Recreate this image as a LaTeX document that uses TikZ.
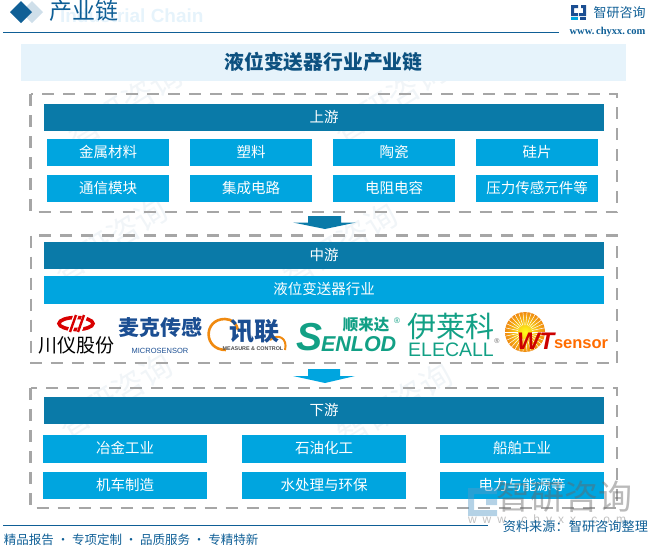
\documentclass[tikz,border=0pt]{standalone}
\usepackage{fontspec}
\setmainfont{Noto Sans CJK SC}
\newfontfamily\latinsans{Liberation Sans}
\newfontfamily\serifl{Liberation Serif}
\definecolor{deepbar}{HTML}{0A7AA8}
\definecolor{lightbar}{HTML}{00A5DF}
\definecolor{navy}{HTML}{0F5F96}
\definecolor{titleband}{HTML}{E6F3FB}
\definecolor{dashgray}{HTML}{A6A6A6}
\definecolor{wmark}{HTML}{F1F5F8}
\definecolor{logogreen}{HTML}{12A085}
\definecolor{micblue}{HTML}{1B4E92}
\definecolor{sunor}{HTML}{F08A10}
\tikzset{
  deepbox/.style={fill=deepbar,text=white,inner sep=0pt,font=\fontsize{14.5}{14.5}\selectfont,text height=11.5pt,text depth=2pt,minimum height=27pt,minimum width=560pt},
  lightbox/.style={fill=lightbar,text=white,inner sep=0pt,font=\fontsize{14.5}{14.5}\selectfont,text height=11.5pt,text depth=2pt,minimum height=27.5pt},
  upbox/.style={lightbox,minimum width=122pt},
  lowbox/.style={lightbox,minimum width=164.5pt},
  dashbox/.style={draw=dashgray,line width=2.4pt,dash pattern=on 12pt off 9pt},
  wm/.style={text=wmark,rotate=32,font=\fontsize{32}{32}\selectfont,inner sep=0pt},
  plain/.style={inner sep=0pt,outer sep=0pt},
}
\begin{document}
\begin{tikzpicture}[x=1pt,y=-1pt]
\useasboundingbox (0,0) rectangle (649,547);
% background watermarks
\node[wm] (w1) at (125,105) {智研咨询};
\node[wm] (w2) at (390,100) {智研咨询};
\node[wm] (w3) at (110,240) {智研咨询};
\node[wm] (w4) at (340,245) {智研咨询};
\node[wm] (w6) at (115,395) {智研咨询};
\node[wm] (w7) at (395,405) {智研咨询};
% header
\node[plain,text=titleband,font=\latinsans\bfseries\fontsize{19}{19}\selectfont,anchor=west] (subt) at (60,16) {Industrial Chain};
\fill[navy!20] (32,1) -- (43,12) -- (32,23) -- (21,12) -- cycle;
\fill[navy] (21,1) -- (32,12) -- (21,23) -- (10,12) -- cycle;
\node[plain,text=navy,font=\fontsize{23}{23}\selectfont,anchor=west] (head) at (49,11) {产业链};
\draw[navy,line width=1pt] (3,32.5) -- (559,32.5);
\fill[micblue] (571,5) rectangle (578,8) (571,5) rectangle (574,16) (571,13) rectangle (578,16) (581,5) rectangle (586,8) (583,5) rectangle (586,13) (579,13) rectangle (586,16);
\fill[lightbar] (571,17) rectangle (578,20);
\fill[micblue] (580,17) rectangle (586,20);
\node[plain,text=navy,font=\fontsize{13}{13}\selectfont] (brand) at (619.5,12.5) {智研咨询};
\node[plain,text=navy,font=\serifl\bfseries\fontsize{10.5}{10.5}\selectfont] (url) at (607.5,32) {www.\,chyxx.\,com};
% title band
\node[plain,fill=titleband,minimum width=605pt,minimum height=37pt,text=navy!85!black,font=\bfseries\fontsize{19.8}{19.8}\selectfont] (title) at (323.5,62) {液位变送器行业产业链};
% dashed frames
\draw[dashbox] (30.5,94) rectangle (617,212);
\draw[dashbox] (31,235.5) rectangle (617,363);
\draw[dashbox] (30.5,388) rectangle (617,508);
% upstream
\node[deepbox] (up) at (324,117.5) {上游};
\node[upbox] (u1) at (108,152.5) {金属材料};
\node[upbox] (u2) at (251,152.5) {塑料};
\node[upbox] (u3) at (394,152.5) {陶瓷};
\node[upbox] (u4) at (537,152.5) {硅片};
\node[upbox] (u5) at (108,188.5) {通信模块};
\node[upbox] (u6) at (251,188.5) {集成电路};
\node[upbox] (u7) at (394,188.5) {电阻电容};
\node[upbox] (u8) at (537,188.5) {压力传感元件等};
% arrow 1
\fill[deepbar] (308,216) -- (341,216) -- (341,222.5) -- (356,222.5) -- (325,229) -- (293,222.5) -- (308,222.5) -- cycle;
% midstream
\node[deepbox] (mid) at (324,255.5) {中游};
\node[lightbox,minimum width=560pt,minimum height=28pt] (mid2) at (324,290) {液位变送器行业};
% logo chuanyi
\draw[red!85!black,line width=3.6pt] (76,323.5) ellipse (17 and 6);
\draw[white,line width=5pt] (70,332) -- (76,315) (79,332) -- (85,315);
\draw[red!85!black,line width=2.4pt] (70,332) -- (76,315) (78,332) -- (84,315);
\node[plain,font=\fontsize{19}{19}\selectfont,text=black] (cy) at (76,345) {川仪股份};
% logo microsensor
\node[plain,font=\bfseries\fontsize{21}{21}\selectfont,text=micblue] (mk) at (160.5,327) {麦克传感};
\node[plain,font=\latinsans\fontsize{7.5}{7.5}\selectfont,text=micblue] (mk2) at (160,350.5) {MICROSENSOR};
% logo xunlian
\draw[sunor,line width=2.6pt] (226,350) .. controls (203,350) and (203,319) .. (225,319) .. controls (232,319) and (237,324) .. (238,330);
\draw[sunor,line width=2pt] (270,340) .. controls (278,333) and (288,338) .. (285,350);
\node[plain,font=\bfseries\fontsize{25}{25}\selectfont,text=micblue] (xl) at (254,331) {讯联};
\node[plain,font=\latinsans\bfseries\fontsize{5.4}{5.4}\selectfont,text=black!70] (xl2) at (253,348.5) {MEASURE \& CONTROL};
% logo senlod
\node[plain,font=\latinsans\bfseries\itshape\fontsize{39}{39}\selectfont,text=logogreen,anchor=west] (sl0) at (296,337) {S};
\node[plain,font=\latinsans\bfseries\itshape\fontsize{21.5}{21.5}\selectfont,text=logogreen,anchor=west] (sl) at (321,344) {ENLOD};
\node[plain,font=\bfseries\fontsize{15.5}{15.5}\selectfont,text=logogreen] (sl2) at (366,325) {顺来达};
\node[plain,font=\latinsans\fontsize{8}{8}\selectfont,text=logogreen] (sl3) at (397,320.5) {®};
% logo elecall
\node[plain,font=\fontsize{29}{29}\selectfont,text=logogreen] (el) at (451,326) {伊莱科};
\node[plain,font=\latinsans\fontsize{19.5}{19.5}\selectfont,text=logogreen] (el2) at (451,350) {ELECALL};
\node[plain,font=\latinsans\fontsize{7}{7}\selectfont,text=black!60] (el3) at (497,341) {®};
% logo wt sensor
\shade[inner color=yellow!90!white,outer color=sunor] (525,332) circle (20);
\foreach \a in {0,12,...,348}{\draw[white,line width=0.5pt] (525,332) ++(\a:7) -- ++(\a:14);}
\node[plain,font=\latinsans\bfseries\itshape\fontsize{24}{24}\selectfont,text=red!80!black,anchor=west] (wt) at (517,341) {WT};
\node[plain,font=\latinsans\bfseries\fontsize{16.5}{16.5}\selectfont,text=orange!85!red,anchor=west] (wt2) at (554,344) {sensor};
% arrow 2
\fill[lightbar] (308,369) -- (340,369) -- (340,376) -- (355,376) -- (325,383) -- (293,376) -- (308,376) -- cycle;
% downstream
\node[deepbox] (down) at (324,410.5) {下游};
\node[lowbox] (d1) at (125,449) {冶金工业};
\node[lowbox] (d2) at (324,449) {石油化工};
\node[lowbox] (d3) at (522,449) {船舶工业};
\node[lowbox] (d4) at (125,485.5) {机车制造};
\node[lowbox] (d5) at (324,485.5) {水处理与环保};
\node[lowbox] (d6) at (522,485.5) {电力与能源等};
% bottom-right watermark
\begin{scope}[opacity=0.45]
\fill[micblue!60!lightbar!70!white] (468,488) rectangle (497,494) (468,488) rectangle (474,516) (468,510) rectangle (497,516) (486,499) rectangle (497,505);
\node[plain,font=\fontsize{34}{34}\selectfont,text=black!60] (wmb) at (564,497) {智研咨询};
\node[plain,font=\latinsans\fontsize{12}{12}\selectfont,text=black!55,anchor=west] (wmu) at (468,520) {w\hspace{6pt}w\hspace{6pt}w\hspace{6pt}.\hspace{6pt}c\hspace{6pt}h\hspace{6pt}y\hspace{6pt}x\hspace{6pt}x\hspace{6pt}.\hspace{6pt}c\hspace{6pt}o\hspace{6pt}m};
\end{scope}
% footer
\draw[navy,line width=1pt] (3,525) -- (488,525);
\node[plain,text=navy,font=\fontsize{13.2}{13.2}\selectfont,anchor=east] (src) at (648,527) {资料来源：智研咨询整理};
\node[plain,text=navy,font=\fontsize{12.5}{12.5}\selectfont,anchor=west] (foot) at (4,540) {精品报告 · 专项定制 · 品质服务 · 专精特新};
\end{tikzpicture}
\end{document}
